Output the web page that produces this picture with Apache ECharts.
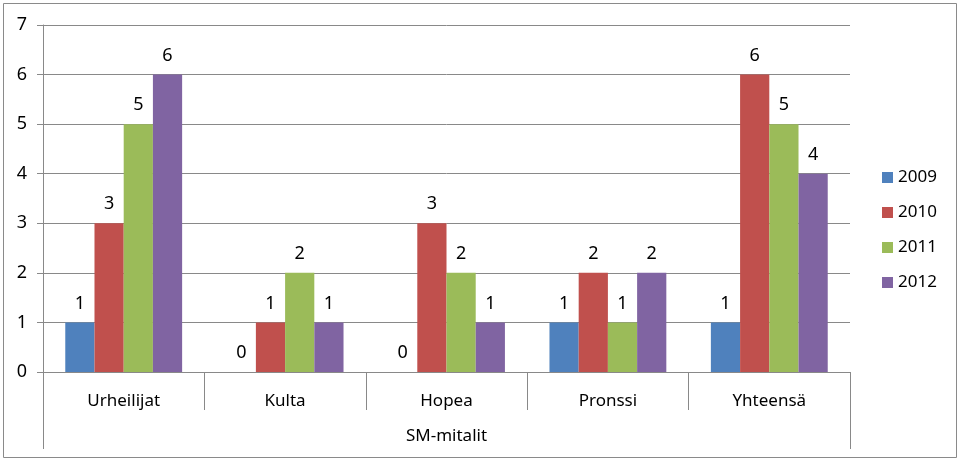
<!DOCTYPE html>
<html><head><meta charset="utf-8">
<script src="https://cdn.jsdelivr.net/npm/echarts@6/dist/echarts.min.js"></script>
<style>html,body{margin:0;padding:0;background:#fff}#c{width:960px;height:461px}</style>
</head><body><div id="c"></div>
<script>
var categories = ['Urheilijat', 'Kulta', 'Hopea', 'Pronssi', 'Yhteensä'];
var groupLabel = ['SM-mitalit'];
var seriesNames = ['2009', '2010', '2011', '2012'];
var s2009 = [1, 0, 0, 1, 1];
var s2010 = [3, 1, 3, 2, 6];
var s2011 = [5, 2, 2, 1, 5];
var s2012 = [6, 1, 1, 2, 4];
var colors = ['#4F81BD', '#C0504D', '#9BBB59', '#8064A2'];
var values = [s2009, s2010, s2011, s2012];
var font = '"Noto Sans", "Open Sans", sans-serif';
var axisGray = '#898989';

var chart = echarts.init(document.getElementById('c'));
chart.setOption({
  animation: false,
  color: colors,
  textStyle: { fontFamily: font },
  grid: { left: 43, right: 110, top: 25, bottom: 89 },
  legend: {
    orient: 'vertical', left: 882, top: 169, padding: 0,
    itemWidth: 11, itemHeight: 11, itemGap: 18,
    icon: 'rect',
    textStyle: { fontSize: 17, color: '#000', fontFamily: font },
    data: seriesNames
  },
  xAxis: [{
    type: 'category', data: categories, position: 'bottom',
    axisLine: { lineStyle: { color: axisGray } },
    axisTick: { show: true, length: 38, lineStyle: { color: axisGray } },
    axisLabel: { color: '#000', fontSize: 17, margin: 21, fontFamily: font }
  }, {
    type: 'category', data: groupLabel, position: 'bottom',
    axisLine: { show: false },
    axisTick: { show: true, length: 77, lineStyle: { color: axisGray } },
    axisLabel: { color: '#000', fontSize: 17, margin: 56, fontFamily: font }
  }],
  yAxis: {
    type: 'value', min: 0, max: 7, interval: 1,
    axisLine: { show: true, lineStyle: { color: axisGray } },
    axisTick: { show: true, length: 6, lineStyle: { color: axisGray } },
    axisLabel: { color: '#000', fontSize: 18, margin: 16, fontFamily: font },
    splitLine: { lineStyle: { color: axisGray } }
  },
  series: seriesNames.map(function (n, i) {
    return {
      name: n, type: 'bar', data: values[i], xAxisIndex: 0,
      barGap: '0%', barCategoryGap: '27.6%',
      label: { show: true, position: 'top', distance: 10, color: '#000', fontSize: 18, fontFamily: font }
    };
  }),
  graphic: [{
    type: 'rect', silent: true,
    shape: { x: 3.5, y: 3.5, width: 953, height: 454 },
    style: { fill: 'none', stroke: '#8a8a8a', lineWidth: 1 }
  }]
});
</script></body></html>
